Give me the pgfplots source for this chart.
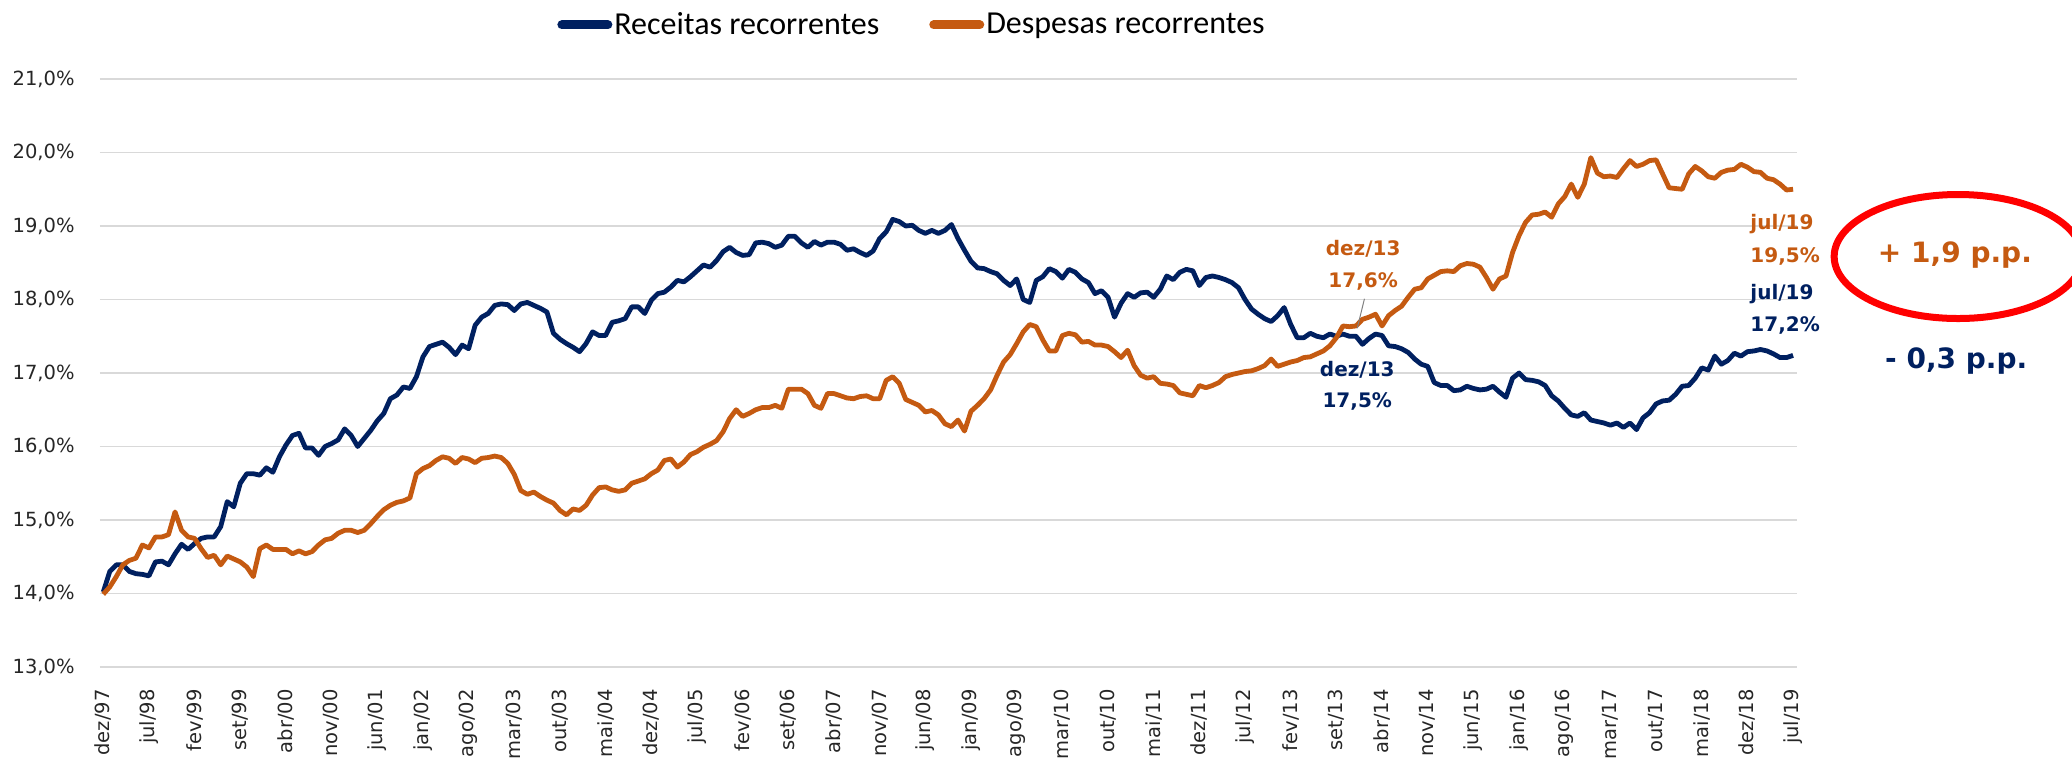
\documentclass[border=0pt]{standalone}
\usepackage{fontspec}
\setmainfont{DejaVu Sans}
\newfontfamily\carlito{Carlito}
\usepackage{pgfplots}
\usepackage{pgfplotstable}
\pgfplotsset{compat=1.18}
\definecolor{navy}{HTML}{002060}
\definecolor{orng}{HTML}{C55A11}
\definecolor{gridc}{HTML}{D9D9D9}
\definecolor{tickc}{HTML}{262626}

\pgfplotstableread{
m rec desp
0 14.02 13.99
1 14.30 14.09
2 14.39 14.23
3 14.39 14.39
4 14.30 14.45
5 14.27 14.48
6 14.26 14.66
7 14.24 14.62
8 14.43 14.77
9 14.44 14.77
10 14.39 14.80
11 14.54 15.11
12 14.67 14.86
13 14.60 14.77
14 14.68 14.75
15 14.75 14.61
16 14.77 14.49
17 14.77 14.52
18 14.91 14.39
19 15.25 14.51
20 15.18 14.47
21 15.50 14.43
22 15.63 14.36
23 15.63 14.23
24 15.61 14.61
25 15.71 14.66
26 15.65 14.60
27 15.86 14.60
28 16.02 14.60
29 16.15 14.54
30 16.18 14.58
31 15.98 14.54
32 15.98 14.57
33 15.88 14.66
34 16.00 14.73
35 16.04 14.75
36 16.09 14.82
37 16.24 14.86
38 16.15 14.86
39 16.00 14.83
40 16.11 14.86
41 16.22 14.95
42 16.35 15.05
43 16.45 15.14
44 16.65 15.20
45 16.70 15.24
46 16.81 15.26
47 16.79 15.30
48 16.95 15.63
49 17.22 15.70
50 17.36 15.74
51 17.39 15.81
52 17.42 15.86
53 17.35 15.84
54 17.25 15.77
55 17.38 15.85
56 17.33 15.83
57 17.65 15.78
58 17.76 15.84
59 17.81 15.85
60 17.92 15.87
61 17.94 15.85
62 17.93 15.77
63 17.85 15.62
64 17.94 15.40
65 17.96 15.35
66 17.92 15.38
67 17.88 15.32
68 17.83 15.27
69 17.54 15.23
70 17.46 15.13
71 17.40 15.07
72 17.35 15.15
73 17.29 15.13
74 17.40 15.20
75 17.56 15.34
76 17.51 15.44
77 17.51 15.45
78 17.69 15.41
79 17.71 15.39
80 17.74 15.41
81 17.90 15.50
82 17.90 15.53
83 17.81 15.56
84 17.99 15.63
85 18.08 15.68
86 18.10 15.81
87 18.17 15.83
88 18.26 15.72
89 18.24 15.79
90 18.31 15.89
91 18.39 15.93
92 18.47 15.99
93 18.44 16.03
94 18.53 16.08
95 18.65 16.20
96 18.71 16.38
97 18.64 16.50
98 18.60 16.41
99 18.61 16.45
100 18.77 16.50
101 18.78 16.53
102 18.76 16.53
103 18.71 16.56
104 18.74 16.52
105 18.86 16.78
106 18.86 16.78
107 18.77 16.78
108 18.71 16.72
109 18.79 16.56
110 18.74 16.52
111 18.78 16.72
112 18.78 16.72
113 18.75 16.69
114 18.67 16.66
115 18.69 16.65
116 18.64 16.68
117 18.60 16.69
118 18.66 16.65
119 18.83 16.65
120 18.92 16.90
121 19.09 16.95
122 19.06 16.86
123 19.00 16.64
124 19.01 16.60
125 18.94 16.56
126 18.90 16.47
127 18.94 16.49
128 18.90 16.43
129 18.94 16.31
130 19.02 16.27
131 18.83 16.36
132 18.67 16.21
133 18.52 16.48
134 18.43 16.56
135 18.42 16.65
136 18.38 16.77
137 18.35 16.97
138 18.26 17.15
139 18.19 17.25
140 18.28 17.40
141 18.00 17.56
142 17.96 17.66
143 18.26 17.63
144 18.31 17.45
145 18.42 17.30
146 18.38 17.30
147 18.29 17.51
148 18.41 17.54
149 18.37 17.52
150 18.28 17.42
151 18.23 17.43
152 18.08 17.38
153 18.12 17.38
154 18.03 17.36
155 17.76 17.29
156 17.95 17.21
157 18.08 17.31
158 18.03 17.10
159 18.09 16.97
160 18.10 16.93
161 18.03 16.95
162 18.14 16.86
163 18.32 16.85
164 18.27 16.83
165 18.37 16.73
166 18.41 16.71
167 18.39 16.69
168 18.19 16.83
169 18.30 16.80
170 18.32 16.83
171 18.30 16.87
172 18.27 16.95
173 18.23 16.98
174 18.16 17.00
175 18.00 17.02
176 17.87 17.03
177 17.80 17.06
178 17.74 17.10
179 17.70 17.19
180 17.78 17.09
181 17.89 17.12
182 17.66 17.15
183 17.48 17.17
184 17.48 17.21
185 17.54 17.22
186 17.50 17.26
187 17.48 17.30
188 17.53 17.37
189 17.50 17.48
190 17.53 17.64
191 17.50 17.63
192 17.50 17.64
193 17.39 17.73
194 17.47 17.76
195 17.53 17.80
196 17.51 17.64
197 17.37 17.78
198 17.36 17.85
199 17.33 17.91
200 17.28 18.03
201 17.19 18.14
202 17.12 18.16
203 17.09 18.28
204 16.87 18.33
205 16.83 18.38
206 16.83 18.39
207 16.76 18.38
208 16.77 18.46
209 16.82 18.49
210 16.79 18.48
211 16.77 18.44
212 16.78 18.30
213 16.82 18.14
214 16.74 18.28
215 16.67 18.32
216 16.93 18.64
217 17.00 18.87
218 16.91 19.05
219 16.90 19.15
220 16.88 19.16
221 16.83 19.19
222 16.69 19.12
223 16.62 19.30
224 16.52 19.40
225 16.43 19.57
226 16.41 19.39
227 16.46 19.57
228 16.36 19.93
229 16.34 19.72
230 16.32 19.67
231 16.29 19.68
232 16.32 19.66
233 16.26 19.78
234 16.32 19.89
235 16.23 19.81
236 16.39 19.84
237 16.46 19.89
238 16.58 19.90
239 16.62 19.71
240 16.63 19.52
241 16.71 19.51
242 16.82 19.50
243 16.83 19.71
244 16.93 19.81
245 17.07 19.75
246 17.04 19.67
247 17.23 19.65
248 17.12 19.73
249 17.17 19.76
250 17.27 19.77
251 17.23 19.84
252 17.29 19.80
253 17.30 19.74
254 17.32 19.73
255 17.30 19.65
256 17.26 19.63
257 17.21 19.57
258 17.21 19.49
259 17.24 19.50
}\data

\begin{document}
\begin{tikzpicture}
\begin{axis}[
  scale only axis, width=848.5pt, height=294pt,
  xmin=-0.5, xmax=259.6, ymin=13, ymax=21,
  xtick={0,7,...,259},
  xticklabels={dez/97,jul/98,fev/99,set/99,abr/00,nov/00,jun/01,jan/02,ago/02,mar/03,out/03,mai/04,dez/04,jul/05,fev/06,set/06,abr/07,nov/07,jun/08,jan/09,ago/09,mar/10,out/10,mai/11,dez/11,jul/12,fev/13,set/13,abr/14,nov/14,jun/15,jan/16,ago/16,mar/17,out/17,mai/18,dez/18,jul/19},
  ytick={13,14,...,21},
  yticklabels={{13,0\%},{14,0\%},{15,0\%},{16,0\%},{17,0\%},{18,0\%},{19,0\%},{20,0\%},{21,0\%}},
  ymajorgrids, grid style={gridc, line width=0.75pt},
  axis line style={draw=none}, tick style={draw=none},
  tick label style={font=\fontsize{9.75}{11}\selectfont, text=tickc},
  xticklabel style={rotate=90, anchor=east, inner sep=0pt},
  xticklabel shift=11pt,
  yticklabel style={anchor=east, inner sep=0pt},
  yticklabel shift=12.5pt,
  clip=false,
  legend columns=2,
  legend style={draw=none, fill=none, at={(axis description cs:0.4785,1.092)}, anchor=center,
    font=\carlito\fontsize{16}{18}\selectfont, text=black,
    nodes={inner sep=1pt},
    /tikz/every odd column/.append style={column sep=0pt},
    /tikz/every even column/.append style={column sep=24pt}},
  legend image code/.code={\draw[line width=4.5pt, line cap=round] (0pt,0pt) -- (23pt,0pt);},
]
\addplot[navy, line width=2.4pt, line join=round] table[x=m,y=rec]{\data};
\addlegendentry{Receitas recorrentes}
\addplot[orng, line width=2.4pt, line join=round] table[x=m,y=desp]{\data};
\addlegendentry{Despesas recorrentes}

\draw[gray, line width=0.5pt] (axis cs:193.3,18.01) -- (axis cs:192.2,17.61);
\node[text=orng, font=\bfseries\fontsize{10}{12}\selectfont] at (axis cs:193.1,18.69) {dez/13};
\node[text=orng, font=\bfseries\fontsize{10}{12}\selectfont] at (axis cs:193.1,18.24) {17,6\%};
\node[text=navy, font=\bfseries\fontsize{10}{12}\selectfont] at (axis cs:192.2,17.05) {dez/13};
\node[text=navy, font=\bfseries\fontsize{10}{12}\selectfont] at (axis cs:192.2,16.61) {17,5\%};
\node[text=orng, font=\bfseries\fontsize{10}{12}\selectfont, anchor=west, inner sep=0pt] at (axis cs:252.4,19.03) {jul/19};
\node[text=orng, font=\bfseries\fontsize{10}{12}\selectfont, anchor=west, inner sep=0pt] at (axis cs:252.4,18.59) {19,5\%};
\node[text=navy, font=\bfseries\fontsize{10}{12}\selectfont, anchor=west, inner sep=0pt] at (axis cs:252.4,18.07) {jul/19};
\node[text=navy, font=\bfseries\fontsize{10}{12}\selectfont, anchor=west, inner sep=0pt] at (axis cs:252.4,17.64) {17,2\%};
\draw[red, line width=3.5pt] (axis cs:284.3,18.585) ellipse [x radius=62pt, y radius=31pt];
\node[text=orng, font=\bfseries\fontsize{14}{16}\selectfont] at (axis cs:283.8,18.6) {+ 1,9 p.p.};
\node[text=navy, font=\bfseries\fontsize{14}{16}\selectfont] at (axis cs:284,17.16) {- 0,3 p.p.};
\end{axis}
\pgfresetboundingbox
\path (-50pt,-52.5pt) rectangle (986pt,333.5pt);
\end{tikzpicture}
\end{document}
